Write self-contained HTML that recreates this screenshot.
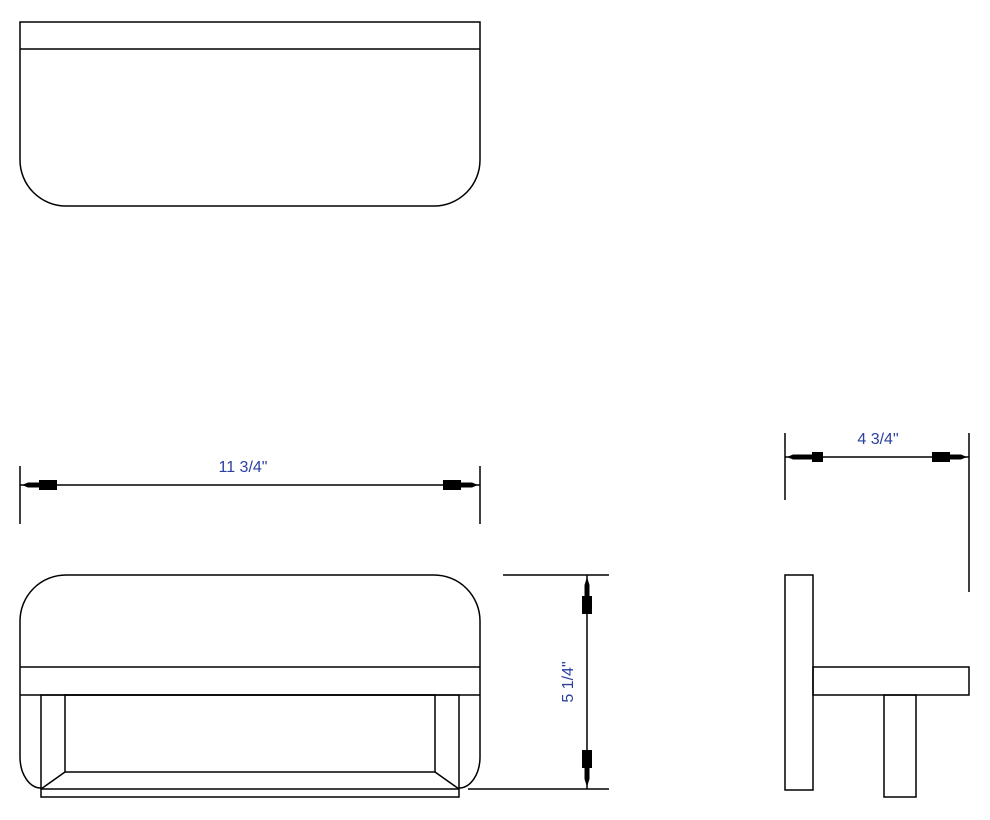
<!DOCTYPE html>
<html><head><meta charset="utf-8"><style>
html,body{margin:0;padding:0;background:#fff;}
svg{display:block;}
text{font-family:"Liberation Sans",sans-serif;fill:#2a3fa0;font-size:16px;}
</style></head><body>
<svg width="990" height="820" viewBox="0 0 990 820" xmlns="http://www.w3.org/2000/svg">
<g fill="none" stroke="#000" stroke-width="1.5">
<!-- top view -->
<path d="M20 22 H480 V160 A46 46 0 0 1 434 206 H66 A46 46 0 0 1 20 160 Z"/>
<line x1="20" y1="49" x2="480" y2="49"/>
<!-- front view -->
<path d="M41 788 A21 31 0 0 1 20 757 V621 A46 46 0 0 1 66 575 H434 A46 46 0 0 1 480 621 V757 A21 31 0 0 1 459 788"/>
<line x1="20" y1="667" x2="480" y2="667"/>
<line x1="20" y1="695" x2="480" y2="695"/>
<rect x="41" y="695" width="418" height="102"/>
<line x1="41" y1="789" x2="459" y2="789"/>
<rect x="65" y="695" width="370" height="77"/>
<line x1="65" y1="772" x2="41" y2="789"/>
<line x1="435" y1="772" x2="459" y2="789"/>
<!-- 11 3/4 dim -->
<line x1="20" y1="466" x2="20" y2="524"/>
<line x1="480" y1="466" x2="480" y2="524"/>
<line x1="20" y1="485" x2="480" y2="485"/>
<!-- 5 1/4 dim -->
<line x1="503" y1="575" x2="609" y2="575"/>
<line x1="468" y1="789" x2="609" y2="789"/>
<line x1="587" y1="575" x2="587" y2="789"/>
<!-- 4 3/4 dim -->
<line x1="785" y1="433" x2="785" y2="500"/>
<line x1="969" y1="433" x2="969" y2="592"/>
<line x1="785" y1="457" x2="969" y2="457"/>
<!-- side view -->
<rect x="785" y="575" width="28" height="215"/>
<rect x="813" y="667" width="156" height="28"/>
<rect x="884" y="695" width="32" height="102"/>
</g>
<g fill="#000">
<polygon points="22,485 28,482.5 39,482.5 39,480 57,480 57,490 39,490 39,487.5 28,487.5"/>
<polygon points="478,485 472,482.5 461,482.5 461,480 443,480 443,490 461,490 461,487.5 472,487.5"/>
<polygon points="787,457 793,454.5 812,454.5 812,452 823,452 823,462 812,462 812,459.5 793,459.5"/>
<polygon points="967,457 961,454.5 950,454.5 950,452 932,452 932,462 950,462 950,459.5 961,459.5"/>
<polygon points="587,577 584.5,585 584.5,596 582,596 582,614 592,614 592,596 589.5,596 589.5,585"/>
<polygon points="587,787 584.5,779 584.5,768 582,768 582,750 592,750 592,768 589.5,768 589.5,779"/>
</g>
<text x="243" y="472" text-anchor="middle">11 3/4"</text>
<text x="878" y="444" text-anchor="middle">4 3/4"</text>
<text x="0" y="0" text-anchor="middle" transform="translate(573,682) rotate(-90)">5 1/4"</text>
</svg>
</body></html>
